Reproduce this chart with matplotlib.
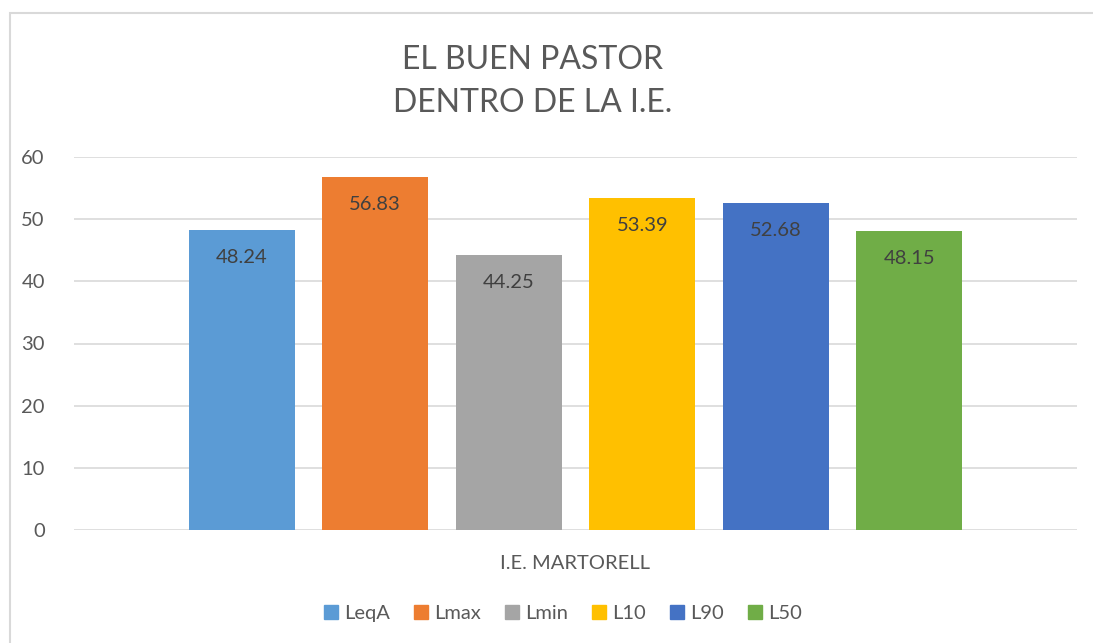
import matplotlib as mpl
mpl.use("Agg")
import matplotlib.pyplot as plt
from matplotlib.patches import Rectangle
from matplotlib.lines import Line2D

CATEGORY = "I.E. MARTORELL"
SERIES = ["LeqA", "Lmax", "Lmin", "L10", "L90", "L50"]
VALUES = [48.24, 56.83, 44.25, 53.39, 52.68, 48.15]
COLORS = ["#5B9BD5", "#ED7D31", "#A5A5A5", "#FFC000", "#4472C4", "#70AD47"]
YTICKS = [0, 10, 20, 30, 40, 50, 60]

plt.rcParams["font.family"] = ["Lato", "DejaVu Sans"]
TXT = "#595959"

W, H = 1093, 643
fig = plt.figure(figsize=(W / 100, H / 100), dpi=100)
fig.patch.set_facecolor("white")
fig.patches.append(Rectangle((10 / W, -0.05), 1.1, 1 - 13 / H + 0.05, transform=fig.transFigure,
                             fill=False, edgecolor="#d9d9d9", lw=1.5))

ax = fig.add_axes([74 / W, 1 - 530 / H, (1077 - 74) / W, (530 - 157) / H])
step, width = 0.1331, 0.1057
for i, (name, v, c) in enumerate(zip(SERIES, VALUES, COLORS)):
    x = (i - 2.5) * step
    ax.bar(x, v, width=width, color=c, zorder=3, label=name)
    ax.annotate(f"{v:.2f}", (x, v), xytext=(0, -20), textcoords="offset points",
                ha="center", va="center", fontsize=14.5, color="#404040", zorder=4)

ax.set_xlim(-0.5, 0.5)
ax.set_ylim(0, 60)
ax.set_yticks(YTICKS)
ax.set_xticks([0])
ax.set_xticklabels([CATEGORY])
ax.tick_params(axis="both", length=0, labelsize=14.5, colors=TXT)
ax.tick_params(axis="y", pad=21)
ax.tick_params(axis="x", pad=18)
ax.grid(axis="y", color="#d9d9d9", lw=1.2, zorder=0)
for s in ax.spines.values():
    s.set_visible(False)

fig.text(533 / W, 1 - 60 / H, "EL BUEN PASTOR", ha="center", va="center", fontsize=23, color=TXT)
fig.text(533 / W, 1 - 103 / H, "DENTRO DE LA I.E.", ha="center", va="center", fontsize=23, color=TXT)

handles = [Line2D([], [], marker="s", ls="none", markersize=10, color=c) for c in COLORS]
leg = fig.legend(handles, SERIES, loc="center", bbox_to_anchor=(563 / W, 1 - 613 / H), ncol=6,
                 frameon=False, fontsize=14.5, handlelength=0.7, handletextpad=0.3, columnspacing=1.2)
for t in leg.get_texts():
    t.set_color(TXT)

fig.savefig("out.png", dpi=100, facecolor="white")
